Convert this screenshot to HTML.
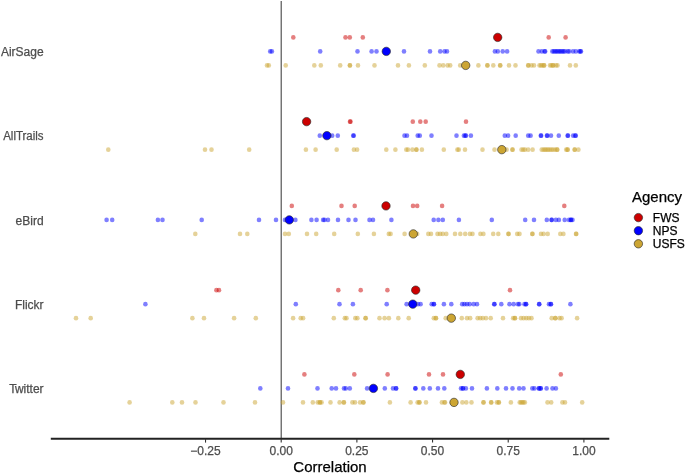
<!DOCTYPE html>
<html><head><meta charset="utf-8"><style>
html,body{margin:0;padding:0;background:#fff;width:685px;height:473px;overflow:hidden}
svg{display:block;will-change:transform}
text{font-family:"Liberation Sans",sans-serif}
</style></head><body>
<svg width="685" height="473" viewBox="0 0 685 473">
<rect width="685" height="473" fill="#fff"/>
<line x1="281.2" y1="1" x2="281.2" y2="438.8" stroke="#464646" stroke-width="1.1"/>
<g fill-opacity="0.5">
<circle cx="293.3" cy="37.40" r="2.3" fill="#CC0000"/>
<circle cx="345.5" cy="37.40" r="2.3" fill="#CC0000"/>
<circle cx="349.8" cy="37.40" r="2.3" fill="#CC0000"/>
<circle cx="362.8" cy="37.40" r="2.3" fill="#CC0000"/>
<circle cx="548.7" cy="37.40" r="2.3" fill="#CC0000"/>
<circle cx="565.6" cy="37.40" r="2.3" fill="#CC0000"/>
<circle cx="270.2" cy="51.40" r="2.3" fill="#0000FF"/>
<circle cx="271.9" cy="51.40" r="2.3" fill="#0000FF"/>
<circle cx="320.2" cy="51.40" r="2.3" fill="#0000FF"/>
<circle cx="357.5" cy="51.40" r="2.3" fill="#0000FF"/>
<circle cx="371.6" cy="51.40" r="2.3" fill="#0000FF"/>
<circle cx="376.5" cy="51.40" r="2.3" fill="#0000FF"/>
<circle cx="404" cy="51.40" r="2.3" fill="#0000FF"/>
<circle cx="430" cy="51.40" r="2.3" fill="#0000FF"/>
<circle cx="440.2" cy="51.40" r="2.3" fill="#0000FF"/>
<circle cx="444.5" cy="51.40" r="2.3" fill="#0000FF"/>
<circle cx="447" cy="51.40" r="2.3" fill="#0000FF"/>
<circle cx="494.9" cy="51.40" r="2.3" fill="#0000FF"/>
<circle cx="497.8" cy="51.40" r="2.3" fill="#0000FF"/>
<circle cx="502.7" cy="51.40" r="2.3" fill="#0000FF"/>
<circle cx="507.1" cy="51.40" r="2.3" fill="#0000FF"/>
<circle cx="538.5" cy="51.40" r="2.3" fill="#0000FF"/>
<circle cx="541.8" cy="51.40" r="2.3" fill="#0000FF"/>
<circle cx="544.6" cy="51.40" r="2.3" fill="#0000FF"/>
<circle cx="545.2" cy="51.40" r="2.3" fill="#0000FF"/>
<circle cx="552.3" cy="51.40" r="2.3" fill="#0000FF"/>
<circle cx="553.8" cy="51.40" r="2.3" fill="#0000FF"/>
<circle cx="555.2" cy="51.40" r="2.3" fill="#0000FF"/>
<circle cx="556.6" cy="51.40" r="2.3" fill="#0000FF"/>
<circle cx="558" cy="51.40" r="2.3" fill="#0000FF"/>
<circle cx="559.4" cy="51.40" r="2.3" fill="#0000FF"/>
<circle cx="560.8" cy="51.40" r="2.3" fill="#0000FF"/>
<circle cx="562.2" cy="51.40" r="2.3" fill="#0000FF"/>
<circle cx="563.6" cy="51.40" r="2.3" fill="#0000FF"/>
<circle cx="565" cy="51.40" r="2.3" fill="#0000FF"/>
<circle cx="567.8" cy="51.40" r="2.3" fill="#0000FF"/>
<circle cx="569.2" cy="51.40" r="2.3" fill="#0000FF"/>
<circle cx="573" cy="51.40" r="2.3" fill="#0000FF"/>
<circle cx="575.8" cy="51.40" r="2.3" fill="#0000FF"/>
<circle cx="579.3" cy="51.40" r="2.3" fill="#0000FF"/>
<circle cx="580.3" cy="51.40" r="2.3" fill="#0000FF"/>
<circle cx="581" cy="51.40" r="2.3" fill="#0000FF"/>
<circle cx="267" cy="65.40" r="2.3" fill="#CCA533"/>
<circle cx="268.8" cy="65.40" r="2.3" fill="#CCA533"/>
<circle cx="285.7" cy="65.40" r="2.3" fill="#CCA533"/>
<circle cx="314.3" cy="65.40" r="2.3" fill="#CCA533"/>
<circle cx="320.8" cy="65.40" r="2.3" fill="#CCA533"/>
<circle cx="340.2" cy="65.40" r="2.3" fill="#CCA533"/>
<circle cx="349.8" cy="65.40" r="2.3" fill="#CCA533"/>
<circle cx="350.0" cy="65.40" r="2.3" fill="#CCA533"/>
<circle cx="358" cy="65.40" r="2.3" fill="#CCA533"/>
<circle cx="374.5" cy="65.40" r="2.3" fill="#CCA533"/>
<circle cx="398" cy="65.40" r="2.3" fill="#CCA533"/>
<circle cx="408.9" cy="65.40" r="2.3" fill="#CCA533"/>
<circle cx="424.8" cy="65.40" r="2.3" fill="#CCA533"/>
<circle cx="439.5" cy="65.40" r="2.3" fill="#CCA533"/>
<circle cx="443.2" cy="65.40" r="2.3" fill="#CCA533"/>
<circle cx="447.6" cy="65.40" r="2.3" fill="#CCA533"/>
<circle cx="450.2" cy="65.40" r="2.3" fill="#CCA533"/>
<circle cx="460.2" cy="65.40" r="2.3" fill="#CCA533"/>
<circle cx="478.4" cy="65.40" r="2.3" fill="#CCA533"/>
<circle cx="487.3" cy="65.40" r="2.3" fill="#CCA533"/>
<circle cx="487.5" cy="65.40" r="2.3" fill="#CCA533"/>
<circle cx="493.3" cy="65.40" r="2.3" fill="#CCA533"/>
<circle cx="500.1" cy="65.40" r="2.3" fill="#CCA533"/>
<circle cx="500.3" cy="65.40" r="2.3" fill="#CCA533"/>
<circle cx="509" cy="65.40" r="2.3" fill="#CCA533"/>
<circle cx="515.5" cy="65.40" r="2.3" fill="#CCA533"/>
<circle cx="528.2" cy="65.40" r="2.3" fill="#CCA533"/>
<circle cx="528.4" cy="65.40" r="2.3" fill="#CCA533"/>
<circle cx="531.5" cy="65.40" r="2.3" fill="#CCA533"/>
<circle cx="534.0" cy="65.40" r="2.3" fill="#CCA533"/>
<circle cx="539.5" cy="65.40" r="2.3" fill="#CCA533"/>
<circle cx="541" cy="65.40" r="2.3" fill="#CCA533"/>
<circle cx="542.5" cy="65.40" r="2.3" fill="#CCA533"/>
<circle cx="544" cy="65.40" r="2.3" fill="#CCA533"/>
<circle cx="544.2" cy="65.40" r="2.3" fill="#CCA533"/>
<circle cx="550" cy="65.40" r="2.3" fill="#CCA533"/>
<circle cx="551.5" cy="65.40" r="2.3" fill="#CCA533"/>
<circle cx="553" cy="65.40" r="2.3" fill="#CCA533"/>
<circle cx="553.2" cy="65.40" r="2.3" fill="#CCA533"/>
<circle cx="556" cy="65.40" r="2.3" fill="#CCA533"/>
<circle cx="557.5" cy="65.40" r="2.3" fill="#CCA533"/>
<circle cx="570" cy="65.40" r="2.3" fill="#CCA533"/>
<circle cx="575.8" cy="65.40" r="2.3" fill="#CCA533"/>
<circle cx="350" cy="121.65" r="2.3" fill="#CC0000"/>
<circle cx="350.5" cy="121.65" r="2.3" fill="#CC0000"/>
<circle cx="412.8" cy="121.65" r="2.3" fill="#CC0000"/>
<circle cx="420.3" cy="121.65" r="2.3" fill="#CC0000"/>
<circle cx="425.7" cy="121.65" r="2.3" fill="#CC0000"/>
<circle cx="466" cy="121.65" r="2.3" fill="#CC0000"/>
<circle cx="319.8" cy="135.65" r="2.3" fill="#0000FF"/>
<circle cx="332.2" cy="135.65" r="2.3" fill="#0000FF"/>
<circle cx="337.8" cy="135.65" r="2.3" fill="#0000FF"/>
<circle cx="353.2" cy="135.65" r="2.3" fill="#0000FF"/>
<circle cx="353.8" cy="135.65" r="2.3" fill="#0000FF"/>
<circle cx="404.5" cy="135.65" r="2.3" fill="#0000FF"/>
<circle cx="407" cy="135.65" r="2.3" fill="#0000FF"/>
<circle cx="417.7" cy="135.65" r="2.3" fill="#0000FF"/>
<circle cx="419.8" cy="135.65" r="2.3" fill="#0000FF"/>
<circle cx="431.5" cy="135.65" r="2.3" fill="#0000FF"/>
<circle cx="456.5" cy="135.65" r="2.3" fill="#0000FF"/>
<circle cx="463.9" cy="135.65" r="2.3" fill="#0000FF"/>
<circle cx="465.3" cy="135.65" r="2.3" fill="#0000FF"/>
<circle cx="466" cy="135.65" r="2.3" fill="#0000FF"/>
<circle cx="470.9" cy="135.65" r="2.3" fill="#0000FF"/>
<circle cx="504.8" cy="135.65" r="2.3" fill="#0000FF"/>
<circle cx="508.1" cy="135.65" r="2.3" fill="#0000FF"/>
<circle cx="515.7" cy="135.65" r="2.3" fill="#0000FF"/>
<circle cx="528.2" cy="135.65" r="2.3" fill="#0000FF"/>
<circle cx="530.6" cy="135.65" r="2.3" fill="#0000FF"/>
<circle cx="540.8" cy="135.65" r="2.3" fill="#0000FF"/>
<circle cx="541.2" cy="135.65" r="2.3" fill="#0000FF"/>
<circle cx="546.9" cy="135.65" r="2.3" fill="#0000FF"/>
<circle cx="547.3" cy="135.65" r="2.3" fill="#0000FF"/>
<circle cx="551" cy="135.65" r="2.3" fill="#0000FF"/>
<circle cx="558.8" cy="135.65" r="2.3" fill="#0000FF"/>
<circle cx="567.6" cy="135.65" r="2.3" fill="#0000FF"/>
<circle cx="568" cy="135.65" r="2.3" fill="#0000FF"/>
<circle cx="573.2" cy="135.65" r="2.3" fill="#0000FF"/>
<circle cx="575.3" cy="135.65" r="2.3" fill="#0000FF"/>
<circle cx="575.8" cy="135.65" r="2.3" fill="#0000FF"/>
<circle cx="108.3" cy="149.65" r="2.3" fill="#CCA533"/>
<circle cx="205" cy="149.65" r="2.3" fill="#CCA533"/>
<circle cx="211.5" cy="149.65" r="2.3" fill="#CCA533"/>
<circle cx="249.2" cy="149.65" r="2.3" fill="#CCA533"/>
<circle cx="305.9" cy="149.65" r="2.3" fill="#CCA533"/>
<circle cx="315.6" cy="149.65" r="2.3" fill="#CCA533"/>
<circle cx="336.7" cy="149.65" r="2.3" fill="#CCA533"/>
<circle cx="353.9" cy="149.65" r="2.3" fill="#CCA533"/>
<circle cx="357.1" cy="149.65" r="2.3" fill="#CCA533"/>
<circle cx="386.3" cy="149.65" r="2.3" fill="#CCA533"/>
<circle cx="395.4" cy="149.65" r="2.3" fill="#CCA533"/>
<circle cx="406.3" cy="149.65" r="2.3" fill="#CCA533"/>
<circle cx="408" cy="149.65" r="2.3" fill="#CCA533"/>
<circle cx="412.4" cy="149.65" r="2.3" fill="#CCA533"/>
<circle cx="416.3" cy="149.65" r="2.3" fill="#CCA533"/>
<circle cx="416.5" cy="149.65" r="2.3" fill="#CCA533"/>
<circle cx="421.9" cy="149.65" r="2.3" fill="#CCA533"/>
<circle cx="443.8" cy="149.65" r="2.3" fill="#CCA533"/>
<circle cx="457.4" cy="149.65" r="2.3" fill="#CCA533"/>
<circle cx="458.8" cy="149.65" r="2.3" fill="#CCA533"/>
<circle cx="465" cy="149.65" r="2.3" fill="#CCA533"/>
<circle cx="482.5" cy="149.65" r="2.3" fill="#CCA533"/>
<circle cx="494.5" cy="149.65" r="2.3" fill="#CCA533"/>
<circle cx="506.6" cy="149.65" r="2.3" fill="#CCA533"/>
<circle cx="512.4" cy="149.65" r="2.3" fill="#CCA533"/>
<circle cx="512.6" cy="149.65" r="2.3" fill="#CCA533"/>
<circle cx="521.5" cy="149.65" r="2.3" fill="#CCA533"/>
<circle cx="523.3" cy="149.65" r="2.3" fill="#CCA533"/>
<circle cx="525" cy="149.65" r="2.3" fill="#CCA533"/>
<circle cx="528.2" cy="149.65" r="2.3" fill="#CCA533"/>
<circle cx="532.6" cy="149.65" r="2.3" fill="#CCA533"/>
<circle cx="541.7" cy="149.65" r="2.3" fill="#CCA533"/>
<circle cx="543.5" cy="149.65" r="2.3" fill="#CCA533"/>
<circle cx="545" cy="149.65" r="2.3" fill="#CCA533"/>
<circle cx="546.4" cy="149.65" r="2.3" fill="#CCA533"/>
<circle cx="548" cy="149.65" r="2.3" fill="#CCA533"/>
<circle cx="549.5" cy="149.65" r="2.3" fill="#CCA533"/>
<circle cx="551.3" cy="149.65" r="2.3" fill="#CCA533"/>
<circle cx="553" cy="149.65" r="2.3" fill="#CCA533"/>
<circle cx="555.1" cy="149.65" r="2.3" fill="#CCA533"/>
<circle cx="557.1" cy="149.65" r="2.3" fill="#CCA533"/>
<circle cx="557.3" cy="149.65" r="2.3" fill="#CCA533"/>
<circle cx="566.2" cy="149.65" r="2.3" fill="#CCA533"/>
<circle cx="567.5" cy="149.65" r="2.3" fill="#CCA533"/>
<circle cx="567.7" cy="149.65" r="2.3" fill="#CCA533"/>
<circle cx="574.6" cy="149.65" r="2.3" fill="#CCA533"/>
<circle cx="574.8" cy="149.65" r="2.3" fill="#CCA533"/>
<circle cx="578.4" cy="149.65" r="2.3" fill="#CCA533"/>
<circle cx="291.8" cy="205.90" r="2.3" fill="#CC0000"/>
<circle cx="341.5" cy="205.90" r="2.3" fill="#CC0000"/>
<circle cx="354.7" cy="205.90" r="2.3" fill="#CC0000"/>
<circle cx="413" cy="205.90" r="2.3" fill="#CC0000"/>
<circle cx="417.2" cy="205.90" r="2.3" fill="#CC0000"/>
<circle cx="442.1" cy="205.90" r="2.3" fill="#CC0000"/>
<circle cx="564.3" cy="205.90" r="2.3" fill="#CC0000"/>
<circle cx="106.6" cy="219.90" r="2.3" fill="#0000FF"/>
<circle cx="112.2" cy="219.90" r="2.3" fill="#0000FF"/>
<circle cx="157.9" cy="219.90" r="2.3" fill="#0000FF"/>
<circle cx="162.5" cy="219.90" r="2.3" fill="#0000FF"/>
<circle cx="201.7" cy="219.90" r="2.3" fill="#0000FF"/>
<circle cx="259" cy="219.90" r="2.3" fill="#0000FF"/>
<circle cx="276" cy="219.90" r="2.3" fill="#0000FF"/>
<circle cx="285" cy="219.90" r="2.3" fill="#0000FF"/>
<circle cx="295.4" cy="219.90" r="2.3" fill="#0000FF"/>
<circle cx="311.4" cy="219.90" r="2.3" fill="#0000FF"/>
<circle cx="316.6" cy="219.90" r="2.3" fill="#0000FF"/>
<circle cx="323.1" cy="219.90" r="2.3" fill="#0000FF"/>
<circle cx="324.5" cy="219.90" r="2.3" fill="#0000FF"/>
<circle cx="328" cy="219.90" r="2.3" fill="#0000FF"/>
<circle cx="338" cy="219.90" r="2.3" fill="#0000FF"/>
<circle cx="348.5" cy="219.90" r="2.3" fill="#0000FF"/>
<circle cx="355.5" cy="219.90" r="2.3" fill="#0000FF"/>
<circle cx="369.5" cy="219.90" r="2.3" fill="#0000FF"/>
<circle cx="373" cy="219.90" r="2.3" fill="#0000FF"/>
<circle cx="391.4" cy="219.90" r="2.3" fill="#0000FF"/>
<circle cx="433.7" cy="219.90" r="2.3" fill="#0000FF"/>
<circle cx="438.4" cy="219.90" r="2.3" fill="#0000FF"/>
<circle cx="442.8" cy="219.90" r="2.3" fill="#0000FF"/>
<circle cx="458.9" cy="219.90" r="2.3" fill="#0000FF"/>
<circle cx="491.8" cy="219.90" r="2.3" fill="#0000FF"/>
<circle cx="525.2" cy="219.90" r="2.3" fill="#0000FF"/>
<circle cx="534" cy="219.90" r="2.3" fill="#0000FF"/>
<circle cx="546.8" cy="219.90" r="2.3" fill="#0000FF"/>
<circle cx="551.5" cy="219.90" r="2.3" fill="#0000FF"/>
<circle cx="551.8" cy="219.90" r="2.3" fill="#0000FF"/>
<circle cx="555.9" cy="219.90" r="2.3" fill="#0000FF"/>
<circle cx="558.9" cy="219.90" r="2.3" fill="#0000FF"/>
<circle cx="564.7" cy="219.90" r="2.3" fill="#0000FF"/>
<circle cx="569" cy="219.90" r="2.3" fill="#0000FF"/>
<circle cx="570.8" cy="219.90" r="2.3" fill="#0000FF"/>
<circle cx="571" cy="219.90" r="2.3" fill="#0000FF"/>
<circle cx="572.5" cy="219.90" r="2.3" fill="#0000FF"/>
<circle cx="195.3" cy="233.90" r="2.3" fill="#CCA533"/>
<circle cx="240" cy="233.90" r="2.3" fill="#CCA533"/>
<circle cx="247.3" cy="233.90" r="2.3" fill="#CCA533"/>
<circle cx="285" cy="233.90" r="2.3" fill="#CCA533"/>
<circle cx="288.8" cy="233.90" r="2.3" fill="#CCA533"/>
<circle cx="307" cy="233.90" r="2.3" fill="#CCA533"/>
<circle cx="316.2" cy="233.90" r="2.3" fill="#CCA533"/>
<circle cx="334.2" cy="233.90" r="2.3" fill="#CCA533"/>
<circle cx="357.8" cy="233.90" r="2.3" fill="#CCA533"/>
<circle cx="373.9" cy="233.90" r="2.3" fill="#CCA533"/>
<circle cx="388.8" cy="233.90" r="2.3" fill="#CCA533"/>
<circle cx="390.6" cy="233.90" r="2.3" fill="#CCA533"/>
<circle cx="404.6" cy="233.90" r="2.3" fill="#CCA533"/>
<circle cx="417.2" cy="233.90" r="2.3" fill="#CCA533"/>
<circle cx="428.3" cy="233.90" r="2.3" fill="#CCA533"/>
<circle cx="431" cy="233.90" r="2.3" fill="#CCA533"/>
<circle cx="437.5" cy="233.90" r="2.3" fill="#CCA533"/>
<circle cx="440.1" cy="233.90" r="2.3" fill="#CCA533"/>
<circle cx="442.8" cy="233.90" r="2.3" fill="#CCA533"/>
<circle cx="446.3" cy="233.90" r="2.3" fill="#CCA533"/>
<circle cx="455" cy="233.90" r="2.3" fill="#CCA533"/>
<circle cx="460.3" cy="233.90" r="2.3" fill="#CCA533"/>
<circle cx="465.2" cy="233.90" r="2.3" fill="#CCA533"/>
<circle cx="469.9" cy="233.90" r="2.3" fill="#CCA533"/>
<circle cx="472.5" cy="233.90" r="2.3" fill="#CCA533"/>
<circle cx="480.4" cy="233.90" r="2.3" fill="#CCA533"/>
<circle cx="483.4" cy="233.90" r="2.3" fill="#CCA533"/>
<circle cx="493.2" cy="233.90" r="2.3" fill="#CCA533"/>
<circle cx="498.3" cy="233.90" r="2.3" fill="#CCA533"/>
<circle cx="508.4" cy="233.90" r="2.3" fill="#CCA533"/>
<circle cx="508.6" cy="233.90" r="2.3" fill="#CCA533"/>
<circle cx="517.2" cy="233.90" r="2.3" fill="#CCA533"/>
<circle cx="519.5" cy="233.90" r="2.3" fill="#CCA533"/>
<circle cx="532.3" cy="233.90" r="2.3" fill="#CCA533"/>
<circle cx="532.5" cy="233.90" r="2.3" fill="#CCA533"/>
<circle cx="541" cy="233.90" r="2.3" fill="#CCA533"/>
<circle cx="543.6" cy="233.90" r="2.3" fill="#CCA533"/>
<circle cx="547.7" cy="233.90" r="2.3" fill="#CCA533"/>
<circle cx="560.3" cy="233.90" r="2.3" fill="#CCA533"/>
<circle cx="563.4" cy="233.90" r="2.3" fill="#CCA533"/>
<circle cx="576" cy="233.90" r="2.3" fill="#CCA533"/>
<circle cx="576.3" cy="233.90" r="2.3" fill="#CCA533"/>
<circle cx="216.4" cy="290.15" r="2.3" fill="#CC0000"/>
<circle cx="219" cy="290.15" r="2.3" fill="#CC0000"/>
<circle cx="338.3" cy="290.15" r="2.3" fill="#CC0000"/>
<circle cx="360.7" cy="290.15" r="2.3" fill="#CC0000"/>
<circle cx="387.4" cy="290.15" r="2.3" fill="#CC0000"/>
<circle cx="510" cy="290.15" r="2.3" fill="#CC0000"/>
<circle cx="145.4" cy="304.15" r="2.3" fill="#0000FF"/>
<circle cx="295.8" cy="304.15" r="2.3" fill="#0000FF"/>
<circle cx="339.5" cy="304.15" r="2.3" fill="#0000FF"/>
<circle cx="352.9" cy="304.15" r="2.3" fill="#0000FF"/>
<circle cx="386.7" cy="304.15" r="2.3" fill="#0000FF"/>
<circle cx="406.6" cy="304.15" r="2.3" fill="#0000FF"/>
<circle cx="418" cy="304.15" r="2.3" fill="#0000FF"/>
<circle cx="420.6" cy="304.15" r="2.3" fill="#0000FF"/>
<circle cx="431.7" cy="304.15" r="2.3" fill="#0000FF"/>
<circle cx="433.8" cy="304.15" r="2.3" fill="#0000FF"/>
<circle cx="434" cy="304.15" r="2.3" fill="#0000FF"/>
<circle cx="443.9" cy="304.15" r="2.3" fill="#0000FF"/>
<circle cx="451.3" cy="304.15" r="2.3" fill="#0000FF"/>
<circle cx="462.2" cy="304.15" r="2.3" fill="#0000FF"/>
<circle cx="464.4" cy="304.15" r="2.3" fill="#0000FF"/>
<circle cx="467" cy="304.15" r="2.3" fill="#0000FF"/>
<circle cx="469.7" cy="304.15" r="2.3" fill="#0000FF"/>
<circle cx="473.7" cy="304.15" r="2.3" fill="#0000FF"/>
<circle cx="477" cy="304.15" r="2.3" fill="#0000FF"/>
<circle cx="494.2" cy="304.15" r="2.3" fill="#0000FF"/>
<circle cx="494.5" cy="304.15" r="2.3" fill="#0000FF"/>
<circle cx="501.3" cy="304.15" r="2.3" fill="#0000FF"/>
<circle cx="509.5" cy="304.15" r="2.3" fill="#0000FF"/>
<circle cx="513.7" cy="304.15" r="2.3" fill="#0000FF"/>
<circle cx="518" cy="304.15" r="2.3" fill="#0000FF"/>
<circle cx="519.3" cy="304.15" r="2.3" fill="#0000FF"/>
<circle cx="524.5" cy="304.15" r="2.3" fill="#0000FF"/>
<circle cx="525.9" cy="304.15" r="2.3" fill="#0000FF"/>
<circle cx="526.2" cy="304.15" r="2.3" fill="#0000FF"/>
<circle cx="539.1" cy="304.15" r="2.3" fill="#0000FF"/>
<circle cx="539.3" cy="304.15" r="2.3" fill="#0000FF"/>
<circle cx="549" cy="304.15" r="2.3" fill="#0000FF"/>
<circle cx="550.8" cy="304.15" r="2.3" fill="#0000FF"/>
<circle cx="551" cy="304.15" r="2.3" fill="#0000FF"/>
<circle cx="570.4" cy="304.15" r="2.3" fill="#0000FF"/>
<circle cx="76" cy="318.15" r="2.3" fill="#CCA533"/>
<circle cx="90.7" cy="318.15" r="2.3" fill="#CCA533"/>
<circle cx="192.4" cy="318.15" r="2.3" fill="#CCA533"/>
<circle cx="204" cy="318.15" r="2.3" fill="#CCA533"/>
<circle cx="234.1" cy="318.15" r="2.3" fill="#CCA533"/>
<circle cx="255.8" cy="318.15" r="2.3" fill="#CCA533"/>
<circle cx="293.1" cy="318.15" r="2.3" fill="#CCA533"/>
<circle cx="300.7" cy="318.15" r="2.3" fill="#CCA533"/>
<circle cx="303.1" cy="318.15" r="2.3" fill="#CCA533"/>
<circle cx="333.8" cy="318.15" r="2.3" fill="#CCA533"/>
<circle cx="344.8" cy="318.15" r="2.3" fill="#CCA533"/>
<circle cx="346.5" cy="318.15" r="2.3" fill="#CCA533"/>
<circle cx="355.3" cy="318.15" r="2.3" fill="#CCA533"/>
<circle cx="357.4" cy="318.15" r="2.3" fill="#CCA533"/>
<circle cx="365.5" cy="318.15" r="2.3" fill="#CCA533"/>
<circle cx="365.7" cy="318.15" r="2.3" fill="#CCA533"/>
<circle cx="379.5" cy="318.15" r="2.3" fill="#CCA533"/>
<circle cx="384.6" cy="318.15" r="2.3" fill="#CCA533"/>
<circle cx="388.9" cy="318.15" r="2.3" fill="#CCA533"/>
<circle cx="398.3" cy="318.15" r="2.3" fill="#CCA533"/>
<circle cx="408.7" cy="318.15" r="2.3" fill="#CCA533"/>
<circle cx="433.8" cy="318.15" r="2.3" fill="#CCA533"/>
<circle cx="435.9" cy="318.15" r="2.3" fill="#CCA533"/>
<circle cx="436" cy="318.15" r="2.3" fill="#CCA533"/>
<circle cx="445.7" cy="318.15" r="2.3" fill="#CCA533"/>
<circle cx="461.8" cy="318.15" r="2.3" fill="#CCA533"/>
<circle cx="467" cy="318.15" r="2.3" fill="#CCA533"/>
<circle cx="470.2" cy="318.15" r="2.3" fill="#CCA533"/>
<circle cx="477.6" cy="318.15" r="2.3" fill="#CCA533"/>
<circle cx="480.2" cy="318.15" r="2.3" fill="#CCA533"/>
<circle cx="482.8" cy="318.15" r="2.3" fill="#CCA533"/>
<circle cx="486" cy="318.15" r="2.3" fill="#CCA533"/>
<circle cx="490.7" cy="318.15" r="2.3" fill="#CCA533"/>
<circle cx="503" cy="318.15" r="2.3" fill="#CCA533"/>
<circle cx="513.1" cy="318.15" r="2.3" fill="#CCA533"/>
<circle cx="514.9" cy="318.15" r="2.3" fill="#CCA533"/>
<circle cx="515" cy="318.15" r="2.3" fill="#CCA533"/>
<circle cx="521" cy="318.15" r="2.3" fill="#CCA533"/>
<circle cx="523.6" cy="318.15" r="2.3" fill="#CCA533"/>
<circle cx="526.3" cy="318.15" r="2.3" fill="#CCA533"/>
<circle cx="528.9" cy="318.15" r="2.3" fill="#CCA533"/>
<circle cx="531.5" cy="318.15" r="2.3" fill="#CCA533"/>
<circle cx="551.7" cy="318.15" r="2.3" fill="#CCA533"/>
<circle cx="555.2" cy="318.15" r="2.3" fill="#CCA533"/>
<circle cx="555.4" cy="318.15" r="2.3" fill="#CCA533"/>
<circle cx="559.5" cy="318.15" r="2.3" fill="#CCA533"/>
<circle cx="561.6" cy="318.15" r="2.3" fill="#CCA533"/>
<circle cx="577.1" cy="318.15" r="2.3" fill="#CCA533"/>
<circle cx="304.4" cy="374.40" r="2.3" fill="#CC0000"/>
<circle cx="354.3" cy="374.40" r="2.3" fill="#CC0000"/>
<circle cx="387.6" cy="374.40" r="2.3" fill="#CC0000"/>
<circle cx="429" cy="374.40" r="2.3" fill="#CC0000"/>
<circle cx="443" cy="374.40" r="2.3" fill="#CC0000"/>
<circle cx="560.8" cy="374.40" r="2.3" fill="#CC0000"/>
<circle cx="260.3" cy="388.40" r="2.3" fill="#0000FF"/>
<circle cx="288" cy="388.40" r="2.3" fill="#0000FF"/>
<circle cx="317.5" cy="388.40" r="2.3" fill="#0000FF"/>
<circle cx="331.7" cy="388.40" r="2.3" fill="#0000FF"/>
<circle cx="336" cy="388.40" r="2.3" fill="#0000FF"/>
<circle cx="344" cy="388.40" r="2.3" fill="#0000FF"/>
<circle cx="345.8" cy="388.40" r="2.3" fill="#0000FF"/>
<circle cx="349.8" cy="388.40" r="2.3" fill="#0000FF"/>
<circle cx="367.1" cy="388.40" r="2.3" fill="#0000FF"/>
<circle cx="384.8" cy="388.40" r="2.3" fill="#0000FF"/>
<circle cx="393" cy="388.40" r="2.3" fill="#0000FF"/>
<circle cx="396" cy="388.40" r="2.3" fill="#0000FF"/>
<circle cx="396.2" cy="388.40" r="2.3" fill="#0000FF"/>
<circle cx="415.3" cy="388.40" r="2.3" fill="#0000FF"/>
<circle cx="415.5" cy="388.40" r="2.3" fill="#0000FF"/>
<circle cx="423.3" cy="388.40" r="2.3" fill="#0000FF"/>
<circle cx="429.8" cy="388.40" r="2.3" fill="#0000FF"/>
<circle cx="438" cy="388.40" r="2.3" fill="#0000FF"/>
<circle cx="444.3" cy="388.40" r="2.3" fill="#0000FF"/>
<circle cx="461" cy="388.40" r="2.3" fill="#0000FF"/>
<circle cx="462.8" cy="388.40" r="2.3" fill="#0000FF"/>
<circle cx="463" cy="388.40" r="2.3" fill="#0000FF"/>
<circle cx="465.9" cy="388.40" r="2.3" fill="#0000FF"/>
<circle cx="472" cy="388.40" r="2.3" fill="#0000FF"/>
<circle cx="486.9" cy="388.40" r="2.3" fill="#0000FF"/>
<circle cx="497.3" cy="388.40" r="2.3" fill="#0000FF"/>
<circle cx="506" cy="388.40" r="2.3" fill="#0000FF"/>
<circle cx="512.5" cy="388.40" r="2.3" fill="#0000FF"/>
<circle cx="519.2" cy="388.40" r="2.3" fill="#0000FF"/>
<circle cx="523.5" cy="388.40" r="2.3" fill="#0000FF"/>
<circle cx="532.3" cy="388.40" r="2.3" fill="#0000FF"/>
<circle cx="534.5" cy="388.40" r="2.3" fill="#0000FF"/>
<circle cx="538.9" cy="388.40" r="2.3" fill="#0000FF"/>
<circle cx="539.1" cy="388.40" r="2.3" fill="#0000FF"/>
<circle cx="540.6" cy="388.40" r="2.3" fill="#0000FF"/>
<circle cx="540.8" cy="388.40" r="2.3" fill="#0000FF"/>
<circle cx="546.6" cy="388.40" r="2.3" fill="#0000FF"/>
<circle cx="552.5" cy="388.40" r="2.3" fill="#0000FF"/>
<circle cx="555.9" cy="388.40" r="2.3" fill="#0000FF"/>
<circle cx="129.6" cy="402.40" r="2.3" fill="#CCA533"/>
<circle cx="172.3" cy="402.40" r="2.3" fill="#CCA533"/>
<circle cx="182" cy="402.40" r="2.3" fill="#CCA533"/>
<circle cx="195.5" cy="402.40" r="2.3" fill="#CCA533"/>
<circle cx="223.5" cy="402.40" r="2.3" fill="#CCA533"/>
<circle cx="255" cy="402.40" r="2.3" fill="#CCA533"/>
<circle cx="283" cy="402.40" r="2.3" fill="#CCA533"/>
<circle cx="303" cy="402.40" r="2.3" fill="#CCA533"/>
<circle cx="312.8" cy="402.40" r="2.3" fill="#CCA533"/>
<circle cx="317.7" cy="402.40" r="2.3" fill="#CCA533"/>
<circle cx="319.8" cy="402.40" r="2.3" fill="#CCA533"/>
<circle cx="320" cy="402.40" r="2.3" fill="#CCA533"/>
<circle cx="321.6" cy="402.40" r="2.3" fill="#CCA533"/>
<circle cx="330.5" cy="402.40" r="2.3" fill="#CCA533"/>
<circle cx="339.6" cy="402.40" r="2.3" fill="#CCA533"/>
<circle cx="343.7" cy="402.40" r="2.3" fill="#CCA533"/>
<circle cx="344" cy="402.40" r="2.3" fill="#CCA533"/>
<circle cx="352.4" cy="402.40" r="2.3" fill="#CCA533"/>
<circle cx="355" cy="402.40" r="2.3" fill="#CCA533"/>
<circle cx="360.1" cy="402.40" r="2.3" fill="#CCA533"/>
<circle cx="363.3" cy="402.40" r="2.3" fill="#CCA533"/>
<circle cx="363.5" cy="402.40" r="2.3" fill="#CCA533"/>
<circle cx="389.9" cy="402.40" r="2.3" fill="#CCA533"/>
<circle cx="410.6" cy="402.40" r="2.3" fill="#CCA533"/>
<circle cx="417.6" cy="402.40" r="2.3" fill="#CCA533"/>
<circle cx="419.3" cy="402.40" r="2.3" fill="#CCA533"/>
<circle cx="419.5" cy="402.40" r="2.3" fill="#CCA533"/>
<circle cx="426" cy="402.40" r="2.3" fill="#CCA533"/>
<circle cx="441.9" cy="402.40" r="2.3" fill="#CCA533"/>
<circle cx="444.4" cy="402.40" r="2.3" fill="#CCA533"/>
<circle cx="445.1" cy="402.40" r="2.3" fill="#CCA533"/>
<circle cx="462.4" cy="402.40" r="2.3" fill="#CCA533"/>
<circle cx="466.3" cy="402.40" r="2.3" fill="#CCA533"/>
<circle cx="471.5" cy="402.40" r="2.3" fill="#CCA533"/>
<circle cx="483.4" cy="402.40" r="2.3" fill="#CCA533"/>
<circle cx="483.6" cy="402.40" r="2.3" fill="#CCA533"/>
<circle cx="491.1" cy="402.40" r="2.3" fill="#CCA533"/>
<circle cx="491.3" cy="402.40" r="2.3" fill="#CCA533"/>
<circle cx="496.9" cy="402.40" r="2.3" fill="#CCA533"/>
<circle cx="498.7" cy="402.40" r="2.3" fill="#CCA533"/>
<circle cx="498.9" cy="402.40" r="2.3" fill="#CCA533"/>
<circle cx="510.9" cy="402.40" r="2.3" fill="#CCA533"/>
<circle cx="519.7" cy="402.40" r="2.3" fill="#CCA533"/>
<circle cx="521" cy="402.40" r="2.3" fill="#CCA533"/>
<circle cx="522.3" cy="402.40" r="2.3" fill="#CCA533"/>
<circle cx="523.5" cy="402.40" r="2.3" fill="#CCA533"/>
<circle cx="524.9" cy="402.40" r="2.3" fill="#CCA533"/>
<circle cx="547.5" cy="402.40" r="2.3" fill="#CCA533"/>
<circle cx="551.2" cy="402.40" r="2.3" fill="#CCA533"/>
<circle cx="562.4" cy="402.40" r="2.3" fill="#CCA533"/>
<circle cx="565" cy="402.40" r="2.3" fill="#CCA533"/>
<circle cx="582.2" cy="402.40" r="2.3" fill="#CCA533"/>
</g>
<g stroke="#222" stroke-width="0.6">
<circle cx="497.7" cy="37.40" r="4.2" fill="#CC0000"/>
<circle cx="386.3" cy="51.40" r="4.2" fill="#0000FF"/>
<circle cx="465.7" cy="65.40" r="4.2" fill="#CCA533"/>
<circle cx="306.6" cy="121.65" r="4.2" fill="#CC0000"/>
<circle cx="326.9" cy="135.65" r="4.2" fill="#0000FF"/>
<circle cx="501.8" cy="149.65" r="4.2" fill="#CCA533"/>
<circle cx="386" cy="205.90" r="4.2" fill="#CC0000"/>
<circle cx="289.3" cy="219.90" r="4.2" fill="#0000FF"/>
<circle cx="413.3" cy="233.90" r="4.2" fill="#CCA533"/>
<circle cx="415.7" cy="290.15" r="4.2" fill="#CC0000"/>
<circle cx="412.8" cy="304.15" r="4.2" fill="#0000FF"/>
<circle cx="451.3" cy="318.15" r="4.2" fill="#CCA533"/>
<circle cx="460.3" cy="374.40" r="4.2" fill="#CC0000"/>
<circle cx="373.4" cy="388.40" r="4.2" fill="#0000FF"/>
<circle cx="454" cy="402.40" r="4.2" fill="#CCA533"/>
</g>
<line x1="50.8" y1="438.8" x2="609.3" y2="438.8" stroke="#222" stroke-width="1.9"/>
<g stroke="#333" stroke-width="1.1">
<line x1="205.52" y1="438.8" x2="205.52" y2="442.6"/>
<line x1="281.20" y1="438.8" x2="281.20" y2="442.6"/>
<line x1="356.88" y1="438.8" x2="356.88" y2="442.6"/>
<line x1="432.55" y1="438.8" x2="432.55" y2="442.6"/>
<line x1="508.22" y1="438.8" x2="508.22" y2="442.6"/>
<line x1="583.90" y1="438.8" x2="583.90" y2="442.6"/>
</g>
<g font-size="12" fill="#4d4d4d" stroke="#4d4d4d" stroke-width="0.25">
<text x="43.6" y="55.80" text-anchor="end">AirSage</text>
<text x="43.6" y="140.05" text-anchor="end" textLength="40.4" lengthAdjust="spacingAndGlyphs">AllTrails</text>
<text x="43.6" y="224.90" text-anchor="end">eBird</text>
<text x="43.6" y="308.55" text-anchor="end">Flickr</text>
<text x="43.6" y="392.80" text-anchor="end">T<tspan dx="-1">witter</tspan></text>
<text x="205.52" y="455.2" text-anchor="middle">−0.25</text>
<text x="281.20" y="455.2" text-anchor="middle">0.00</text>
<text x="356.88" y="455.2" text-anchor="middle">0.25</text>
<text x="432.55" y="455.2" text-anchor="middle">0.50</text>
<text x="508.22" y="455.2" text-anchor="middle">0.75</text>
<text x="583.90" y="455.2" text-anchor="middle">1.00</text>
</g>
<text x="330" y="472.0" text-anchor="middle" font-size="15" fill="#000" stroke="#000" stroke-width="0.25">Correlation</text>
<text x="632" y="202" font-size="15" fill="#000" stroke="#000" stroke-width="0.25">Agency</text>
<g stroke="#222" stroke-width="0.6">
<circle cx="638.4" cy="217.6" r="4.2" fill="#CC0000"/>
<circle cx="638.4" cy="230.7" r="4.2" fill="#0000FF"/>
<circle cx="638.4" cy="243.8" r="4.2" fill="#CCA533"/>
</g>
<g font-size="12" fill="#000" stroke="#000" stroke-width="0.25">
<text x="652.8" y="221.8">FWS</text>
<text x="652.8" y="234.9">NPS</text>
<text x="652.8" y="248">USFS</text>
</g>
</svg>
</body></html>
